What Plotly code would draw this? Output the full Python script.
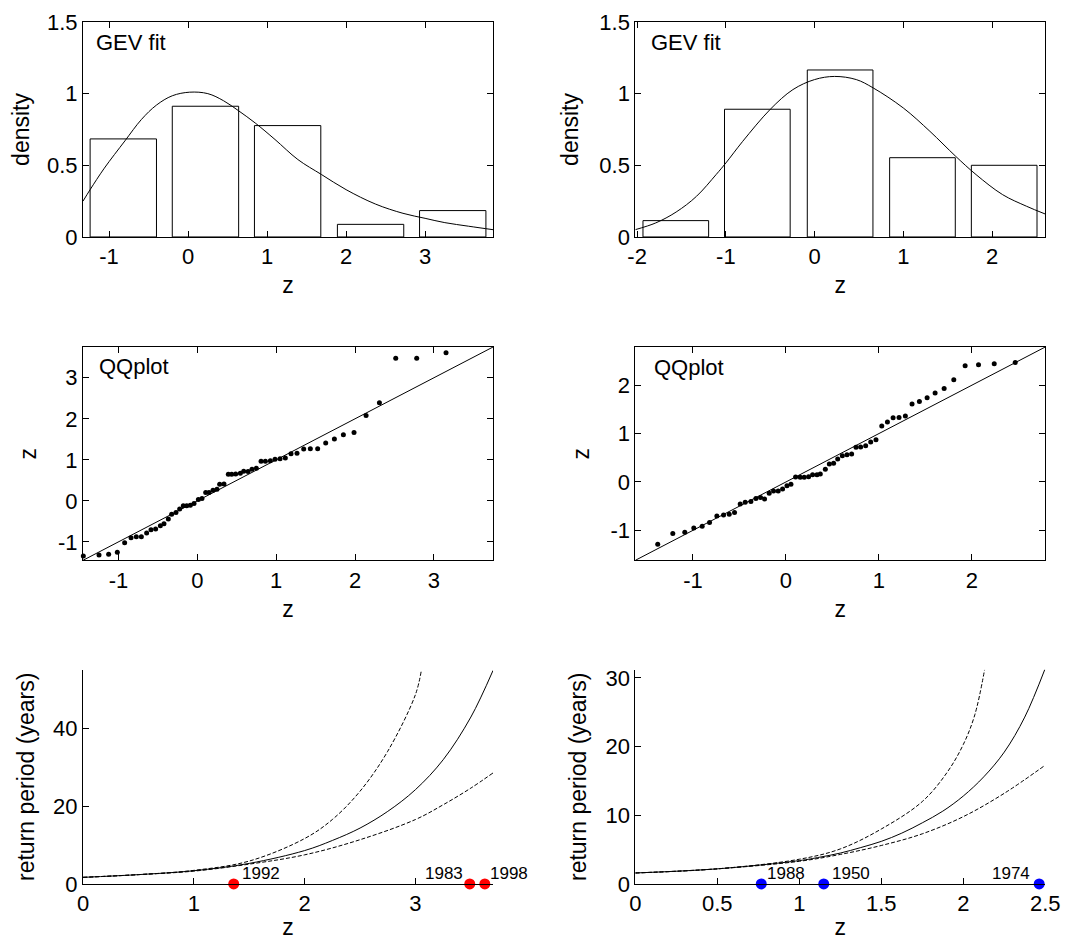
import plotly.graph_objects as go
from plotly.subplots import make_subplots

# ---- row 1: histograms + fitted GEV density ----
hist_a_z = [-0.82, 0.22, 1.26, 2.31, 3.35]
hist_a_density = [0.684, 0.912, 0.777, 0.088, 0.184]
hist_b_z = [-1.564, -0.645, 0.288, 1.216, 2.137]
hist_b_density = [0.114, 0.891, 1.165, 0.553, 0.50]

gev_a_z = [-1.33, -1.24, -1.06, -0.80, -0.59, -0.40, -0.20, 0.02, 0.25, 0.45, 0.64,
           0.85, 1.10, 1.39, 1.69, 2.0, 2.37, 2.72, 3.0, 3.25, 3.55, 3.87]
gev_a_pdf = [0.25, 0.33, 0.48, 0.67, 0.82, 0.92, 0.985, 1.01, 1.0, 0.95, 0.88,
             0.795, 0.68, 0.54, 0.435, 0.33, 0.23, 0.165, 0.13, 0.10, 0.075, 0.05]
gev_b_z = [-2.02, -1.79, -1.56, -1.33, -1.11, -1.0, -0.81, -0.5, -0.244, 0.0, 0.226,
           0.47, 0.66, 1.0, 1.30, 1.59, 1.82, 2.12, 2.39, 2.60]
gev_b_pdf = [0.051, 0.098, 0.174, 0.284, 0.435, 0.516, 0.667, 0.89, 1.028, 1.098, 1.12,
             1.098, 1.04, 0.90, 0.737, 0.563, 0.435, 0.295, 0.214, 0.16]

# ---- row 2: QQ plots (model quantile, empirical quantile) ----
qq_a_model = [-1.446, -1.247, -1.125, -1.015, -0.922, -0.841, -0.774, -0.71, -0.643, -0.588,
              -0.529, -0.469, -0.423, -0.368, -0.326, -0.271, -0.224, -0.178, -0.135, -0.089,
              -0.042, 0.013, 0.059, 0.106, 0.148, 0.199, 0.249, 0.283, 0.338, 0.393,
              0.436, 0.486, 0.545, 0.588, 0.643, 0.693, 0.748, 0.808, 0.863, 0.926,
              0.985, 1.049, 1.116, 1.188, 1.264, 1.349, 1.433, 1.526, 1.628, 1.738,
              1.852, 1.987, 2.14, 2.309, 2.516, 2.782, 3.154]
qq_a_data = [-1.344, -1.32, -1.30, -1.255, -1.02, -0.899, -0.874, -0.874, -0.785, -0.704,
             -0.688, -0.607, -0.559, -0.445, -0.324, -0.283, -0.202, -0.121, -0.121, -0.105,
             -0.065, 0.032, 0.057, 0.202, 0.202, 0.259, 0.283, 0.405, 0.413, 0.648,
             0.648, 0.656, 0.672, 0.721, 0.713, 0.769, 0.794, 0.964, 0.964, 0.98,
             1.012, 1.028, 1.045, 1.15, 1.158, 1.263, 1.271, 1.271, 1.409, 1.506,
             1.611, 1.668, 2.08, 2.389, 3.474, 3.474, 3.611]
qq_b_model = [-1.379, -1.217, -1.088, -0.991, -0.901, -0.822, -0.743, -0.671, -0.61, -0.553,
              -0.492, -0.438, -0.377, -0.323, -0.273, -0.23, -0.18, -0.133, -0.083, -0.036,
              0.011, 0.054, 0.104, 0.154, 0.197, 0.244, 0.287, 0.334, 0.37, 0.424,
              0.467, 0.513, 0.557, 0.607, 0.657, 0.707, 0.754, 0.804, 0.858, 0.912,
              0.969, 1.031, 1.092, 1.153, 1.217, 1.285, 1.357, 1.436, 1.519, 1.605,
              1.702, 1.806, 1.928, 2.072, 2.241, 2.467, 2.80]
qq_b_data = [-1.287, -1.067, -1.039, -0.95, -0.915, -0.84, -0.702, -0.681, -0.668, -0.633,
             -0.454, -0.42, -0.406, -0.344, -0.323, -0.351, -0.234, -0.186, -0.186, -0.145,
             -0.076, -0.048, 0.103, 0.096, 0.096, 0.11, 0.151, 0.151, 0.165, 0.262,
             0.372, 0.385, 0.475, 0.544, 0.564, 0.578, 0.716, 0.723, 0.75, 0.826,
             0.874, 1.156, 1.239, 1.328, 1.335, 1.363, 1.61, 1.666, 1.741, 1.838,
             1.934, 2.113, 2.402, 2.423, 2.443, 2.471, 2.588]
qq_a_lim = [-1.45, 3.75]
qq_b_lim = [-1.62, 2.79]

# ---- row 3: return period curves with bounds ----
rp_a_z = [0, 0.5, 1.0, 1.5, 2.0, 2.25, 2.5, 2.75, 3.0, 3.25, 3.5, 3.70]
rp_a = [1.7, 2.4, 3.4, 5.3, 8.6, 11.2, 14.4, 18.7, 24.3, 32.0, 43.0, 55.0]
rp_a_hi_z = [0, 0.5, 1.0, 1.5, 2.0, 2.25, 2.5, 2.75, 3.0, 3.054]
rp_a_hi = [1.7, 2.4, 3.5, 5.9, 11.7, 16.6, 23.9, 34.2, 48.8, 55.2]
rp_a_lo_z = [0, 0.5, 1.0, 1.5, 2.0, 2.5, 3.0, 3.25, 3.5, 3.70]
rp_a_lo = [1.7, 2.4, 3.3, 5.1, 7.5, 11.4, 16.6, 20.4, 24.7, 28.6]
events_a_z = [1.36, 3.49, 3.626]
events_a_year = ["1992", "1983", "1998"]

rp_b_z = [0, 0.5, 1.0, 1.125, 1.25, 1.375, 1.5, 1.625, 1.75, 1.875, 2.0, 2.125, 2.25, 2.375, 2.5]
rp_b = [1.6, 2.2, 3.4, 3.9, 4.5, 5.3, 6.2, 7.4, 8.9, 10.6, 12.8, 15.6, 19.2, 24.3, 31.4]
rp_b_hi_z = [0, 0.5, 1.0, 1.25, 1.5, 1.75, 1.9, 2.0, 2.07, 2.13]
rp_b_hi = [1.6, 2.2, 3.6, 5.1, 8.0, 12.0, 16.2, 20.3, 24.6, 31.2]
rp_b_lo_z = [0, 0.5, 1.0, 1.25, 1.5, 1.75, 2.0, 2.25, 2.5]
rp_b_lo = [1.6, 2.2, 3.3, 4.3, 5.6, 7.3, 9.8, 13.2, 17.3]
events_b_z = [0.768, 1.149, 2.463]
events_b_year = ["1988", "1950", "1974"]

FONT = "Liberation Sans, Arial, sans-serif"

fig = make_subplots(rows=3, cols=2)

line_k = dict(color="black", width=1)
dash_k = dict(color="black", width=1, dash="4px,2px")


def ax_id(n):
    return "" if n == 1 else str(n)


# row 1
for col, (hz, hd, w, cz, cp) in enumerate([
        (hist_a_z, hist_a_density, 0.84, gev_a_z, gev_a_pdf),
        (hist_b_z, hist_b_density, 0.74, gev_b_z, gev_b_pdf)], start=1):
    fig.add_trace(go.Bar(x=hz, y=hd, width=w,
                         marker=dict(color="white", line=dict(color="black", width=1))),
                  row=1, col=col)
    fig.add_trace(go.Scatter(x=cz, y=cp, mode="lines", line=dict(line_k, shape="spline")),
                  row=1, col=col)

# row 2
for col, (mz, dz, lim) in enumerate([(qq_a_model, qq_a_data, qq_a_lim),
                                     (qq_b_model, qq_b_data, qq_b_lim)], start=1):
    fig.add_trace(go.Scatter(x=lim, y=lim, mode="lines", line=line_k), row=2, col=col)
    fig.add_trace(go.Scatter(x=mz, y=dz, mode="markers", cliponaxis=False,
                             marker=dict(color="black", size=5)), row=2, col=col)

# row 3
rows3 = [
    (rp_a_z, rp_a, rp_a_hi_z, rp_a_hi, rp_a_lo_z, rp_a_lo, events_a_z, events_a_year, "#ff0000",
     [("left", 6), ("right", -5), ("left", 3)]),
    (rp_b_z, rp_b, rp_b_hi_z, rp_b_hi, rp_b_lo_z, rp_b_lo, events_b_z, events_b_year, "#0000ff",
     [("left", 4), ("left", 6), ("right", -7)]),
]
for col, (z, r, hz, hr, lz, lr, ez, ey, colr, lab) in enumerate(rows3, start=1):
    fig.add_trace(go.Scatter(x=hz, y=hr, mode="lines", line=dict(dash_k, shape="spline")),
                  row=3, col=col)
    fig.add_trace(go.Scatter(x=lz, y=lr, mode="lines", line=dict(dash_k, shape="spline")),
                  row=3, col=col)
    fig.add_trace(go.Scatter(x=z, y=r, mode="lines", line=dict(line_k, shape="spline")),
                  row=3, col=col)
    fig.add_trace(go.Scatter(x=ez, y=[0] * len(ez), mode="markers", cliponaxis=False,
                             marker=dict(color=colr, size=11)), row=3, col=col)
    for x, yr, (anchor, shift) in zip(ez, ey, lab):
        fig.add_annotation(x=x, y=0, text=yr, showarrow=False, xanchor=anchor,
                           yanchor="middle", xshift=shift, yshift=10,
                           font=dict(size=17, color="black"),
                           xref=f"x{4 + col}", yref=f"y{4 + col}")

# axes
base = dict(showline=True, linecolor="black", linewidth=1, ticks="inside", ticklen=6,
            tickcolor="black", showgrid=False, zeroline=False, automargin=False,
            tickfont=dict(size=22, color="black", family=FONT))


def ticks(vals):
    return dict(tickmode="array", tickvals=vals, ticktext=[f"{v:g}" for v in vals])


def title(t, standoff):
    return dict(text=t, font=dict(size=23, color="black", family=FONT), standoff=standoff)


xl = [0.0701, 0.4533]
xr = [0.5863, 0.9694]
y1 = [0.7572, 0.9852]
y2 = [0.4143, 0.6405]
y3 = [0.0711, 0.2983]

box = dict(base, mirror="ticks")
open_ax = dict(base, mirror=False)

fig.update_layout(
    xaxis=dict(box, domain=xl, range=[-1.33, 3.86], **ticks([-1, 0, 1, 2, 3]), title=title("z", 8)),
    yaxis=dict(box, domain=y1, range=[0, 1.5], **ticks([0, 0.5, 1, 1.5]), title=title("density", 14)),
    xaxis2=dict(box, domain=xr, range=[-2.02, 2.60], **ticks([-2, -1, 0, 1, 2]), title=title("z", 8)),
    yaxis2=dict(box, domain=y1, range=[0, 1.5], **ticks([0, 0.5, 1, 1.5]), title=title("density", 14)),
    xaxis3=dict(box, domain=xl, range=qq_a_lim, **ticks([-1, 0, 1, 2, 3]), title=title("z", 9)),
    yaxis3=dict(box, domain=y2, range=qq_a_lim, **ticks([-1, 0, 1, 2, 3]), title=title("z", 14)),
    xaxis4=dict(box, domain=xr, range=qq_b_lim, **ticks([-1, 0, 1, 2]), title=title("z", 9)),
    yaxis4=dict(box, domain=y2, range=qq_b_lim, **ticks([-1, 0, 1, 2]), title=title("z", 14)),
    xaxis5=dict(open_ax, domain=xl, range=[0, 3.70], **ticks([0, 1, 2, 3]), title=title("z", 3)),
    yaxis5=dict(open_ax, domain=y3, range=[0, 55.2], **ticks([0, 20, 40]),
                title=title("return period (years)", 12)),
    xaxis6=dict(open_ax, domain=xr, range=[0, 2.5], **ticks([0, 0.5, 1, 1.5, 2, 2.5]), title=title("z", 3)),
    yaxis6=dict(open_ax, domain=y3, range=[0, 31.2], **ticks([0, 10, 20, 30]),
                title=title("return period (years)", 12)),
)

for i, (lbl, xx, yy) in enumerate([("GEV fit", 0.027, 0.905), ("GEV fit", 0.033, 0.905),
                                    ("QQplot", 0.035, 0.908), ("QQplot", 0.041, 0.903)], start=1):
    fig.add_annotation(text=lbl, x=xx, y=yy, xref=f"x{ax_id(i)} domain", yref=f"y{ax_id(i)} domain",
                       xanchor="left", yanchor="middle", showarrow=False,
                       font=dict(size=22, color="black", family=FONT))

fig.update_layout(
    width=1070, height=943, template="none", showlegend=False,
    paper_bgcolor="white", plot_bgcolor="white",
    margin=dict(l=0, r=0, t=0, b=0),
    font=dict(family=FONT, color="black"),
)

fig.write_html("out.html")
